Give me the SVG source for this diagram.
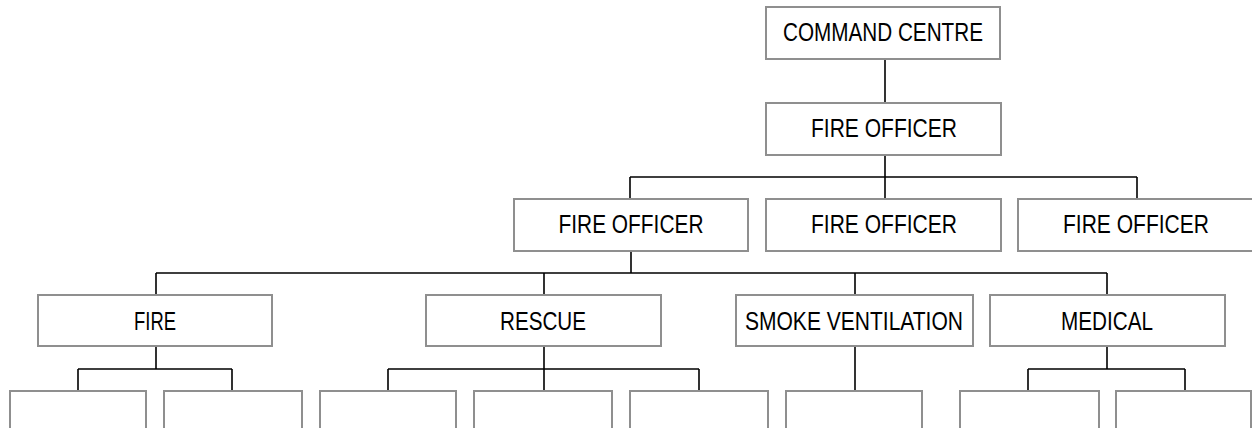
<svg xmlns="http://www.w3.org/2000/svg" width="1252" height="428" viewBox="0 0 1252 428">
<style>
.box{fill:#ffffff;stroke:#8f8f8f;stroke-width:2}
.lbl{font-family:"Liberation Sans Narrow","Liberation Sans",Arial,sans-serif;font-size:26px;fill:#000000;text-anchor:middle}
.con{fill:none;stroke:#000000;stroke-width:1.6}
</style>
<rect width="1252" height="428" fill="#ffffff"/>
<g id="connectors">
<path class="con" d="M885 59V103"/>
<path class="con" d="M885 155V177M630 177H1137M630 177V199M885 177V199M1137 177V199"/>
<path class="con" d="M631 251V273M156 273H1107M156 273V295M544 273V295M855 273V295M1107 273V295"/>
<path class="con" d="M156 346V369M78 369H232M78 369V391M232 369V391"/>
<path class="con" d="M544 346V391M388 369H699M388 369V391M699 369V391"/>
<path class="con" d="M855 346V391"/>
<path class="con" d="M1107 346V369M1028 369H1185M1028 369V391M1185 369V391"/>
</g>
<g id="command-centre"><rect class="box" x="766" y="7" width="234" height="52"/><text class="lbl" x="883" y="41" textLength="200" lengthAdjust="spacingAndGlyphs">COMMAND CENTRE</text></g>
<g id="fire-officer-top"><rect class="box" x="766" y="103" width="235" height="52"/><text class="lbl" x="884" y="137" textLength="146" lengthAdjust="spacingAndGlyphs">FIRE OFFICER</text></g>
<g id="fire-officer-1"><rect class="box" x="514" y="199" width="234" height="52"/><text class="lbl" x="631" y="233" textLength="145" lengthAdjust="spacingAndGlyphs">FIRE OFFICER</text></g>
<g id="fire-officer-2"><rect class="box" x="766" y="199" width="235" height="52"/><text class="lbl" x="884" y="233" textLength="146" lengthAdjust="spacingAndGlyphs">FIRE OFFICER</text></g>
<g id="fire-officer-3"><rect class="box" x="1018" y="199" width="236" height="52"/><text class="lbl" x="1136" y="233" textLength="146" lengthAdjust="spacingAndGlyphs">FIRE OFFICER</text></g>
<g id="fire"><rect class="box" x="38" y="295" width="234" height="51"/><text class="lbl" x="155" y="330" textLength="42" lengthAdjust="spacingAndGlyphs">FIRE</text></g>
<g id="rescue"><rect class="box" x="426" y="295" width="235" height="51"/><text class="lbl" x="543" y="330" textLength="86" lengthAdjust="spacingAndGlyphs">RESCUE</text></g>
<g id="smoke-ventilation"><rect class="box" x="736" y="295" width="237" height="51"/><text class="lbl" x="854" y="330" textLength="218" lengthAdjust="spacingAndGlyphs">SMOKE VENTILATION</text></g>
<g id="medical"><rect class="box" x="990" y="295" width="235" height="51"/><text class="lbl" x="1107" y="330" textLength="92" lengthAdjust="spacingAndGlyphs">MEDICAL</text></g>
<g id="fire-1"><rect class="box" x="10" y="391" width="136" height="60"/></g>
<g id="fire-2"><rect class="box" x="164" y="391" width="138" height="60"/></g>
<g id="rescue-1"><rect class="box" x="320" y="391" width="136" height="60"/></g>
<g id="rescue-2"><rect class="box" x="474" y="391" width="138" height="60"/></g>
<g id="rescue-3"><rect class="box" x="630" y="391" width="138" height="60"/></g>
<g id="smoke-1"><rect class="box" x="786" y="391" width="136" height="60"/></g>
<g id="medical-1"><rect class="box" x="960" y="391" width="139" height="60"/></g>
<g id="medical-2"><rect class="box" x="1116" y="391" width="135" height="60"/></g>
</svg>
